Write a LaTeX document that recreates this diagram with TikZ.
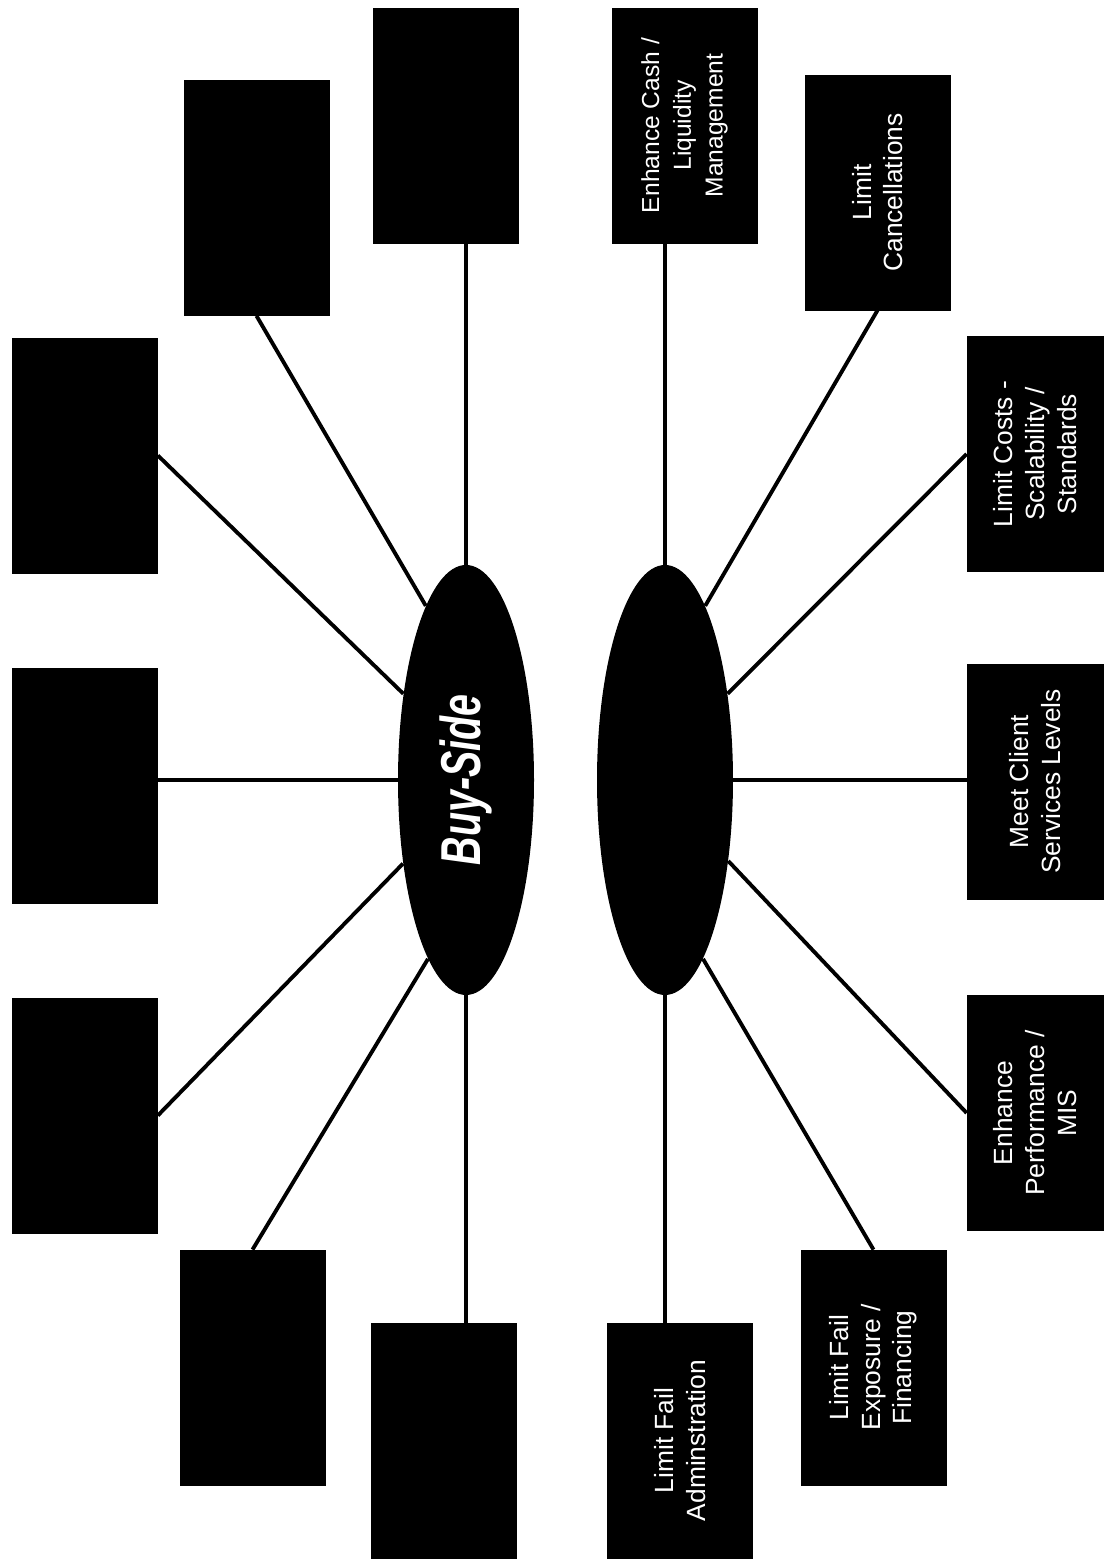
\documentclass[tikz,border=0pt]{standalone}
\usepackage{fontspec}
\setmainfont{Liberation Sans}
\newfontfamily\hubfont[FakeStretch=0.7]{Liberation Sans}
\usetikzlibrary{shapes.geometric}

\tikzset{
    goalbox/.style={draw=black, fill=black, text=white, rotate=90, minimum width=4.7cm, minimum height=2.9cm, align=center, inner sep=0pt, font=\fontsize{15}{18}\selectfont},
    sidebox/.style={goalbox, minimum height=2.72cm},
    hub/.style={ellipse, fill=black, text=white, minimum width=2.72cm, minimum height=8.6cm, inner sep=0pt},
    spoke/.style={line width=2.2pt}
}

\begin{document}
\begin{tikzpicture}
    \useasboundingbox (0,0) rectangle (22.14,31.2);

    % the two hubs
    \node[hub] (buy) at (9.32,15.6) {\rotatebox{90}{\hubfont\bfseries\itshape\fontsize{32}{36}\selectfont Buy-Side}};
    \node[hub] (sell) at (13.3,15.6) {};

    % buy-side boxes (left, empty)
    \node[goalbox] (l1) at (8.91,28.69) {};
    \node[goalbox] (l2) at (5.13,27.24) {};
    \node[goalbox] (l3) at (1.7,22.09) {};
    \node[goalbox] (l4) at (1.7,15.49) {};
    \node[goalbox] (l5) at (1.7,8.89) {};
    \node[goalbox] (l6) at (5.05,3.85) {};
    \node[goalbox] (l7) at (8.88,2.39) {};

    % sell-side boxes (right)
    \node[goalbox, font=\fontsize{14}{18}\selectfont] (r1) at (13.69,28.69) {Enhance Cash /\\Liquidity\\Management};
    \node[goalbox] (r2) at (17.55,27.35) {Limit\\Cancellations};
    \node[sidebox] (r3) at (20.7,22.12) {Limit Costs -\\Scalability /\\Standards};
    \node[sidebox] (r4) at (20.7,15.57) {Meet Client\\Services Levels};
    \node[sidebox] (r5) at (20.7,8.94) {Enhance\\Performance /\\MIS};
    \node[goalbox] (r6) at (17.47,3.85) {Limit Fail\\Exposure /\\Financing};
    \node[goalbox] (r7) at (13.6,2.39) {Limit Fail\\Adminstration};

    % spokes
    \draw[spoke] (buy.north) -- (buy.north |- l1.west);
    \draw[spoke] (buy.103) -- (l2.west);
    \draw[spoke] (buy.126) -- (l3.south);
    \draw[spoke] (buy.west) -- (buy.west -| l4.south);
    \draw[spoke] (buy.233) -- (l5.south);
    \draw[spoke] (buy.258) -- (l6.east);
    \draw[spoke] (buy.south) -- (buy.south |- l7.east);

    \draw[spoke] (sell.north) -- (sell.north |- r1.west);
    \draw[spoke] (sell.77) -- (r2.west);
    \draw[spoke] (sell.54) -- (r3.north);
    \draw[spoke] (sell.east) -- (sell.east -| r4.north);
    \draw[spoke] (sell.308) -- (r5.north);
    \draw[spoke] (sell.282) -- (r6.east);
    \draw[spoke] (sell.south) -- (sell.south |- r7.east);
\end{tikzpicture}
\end{document}
